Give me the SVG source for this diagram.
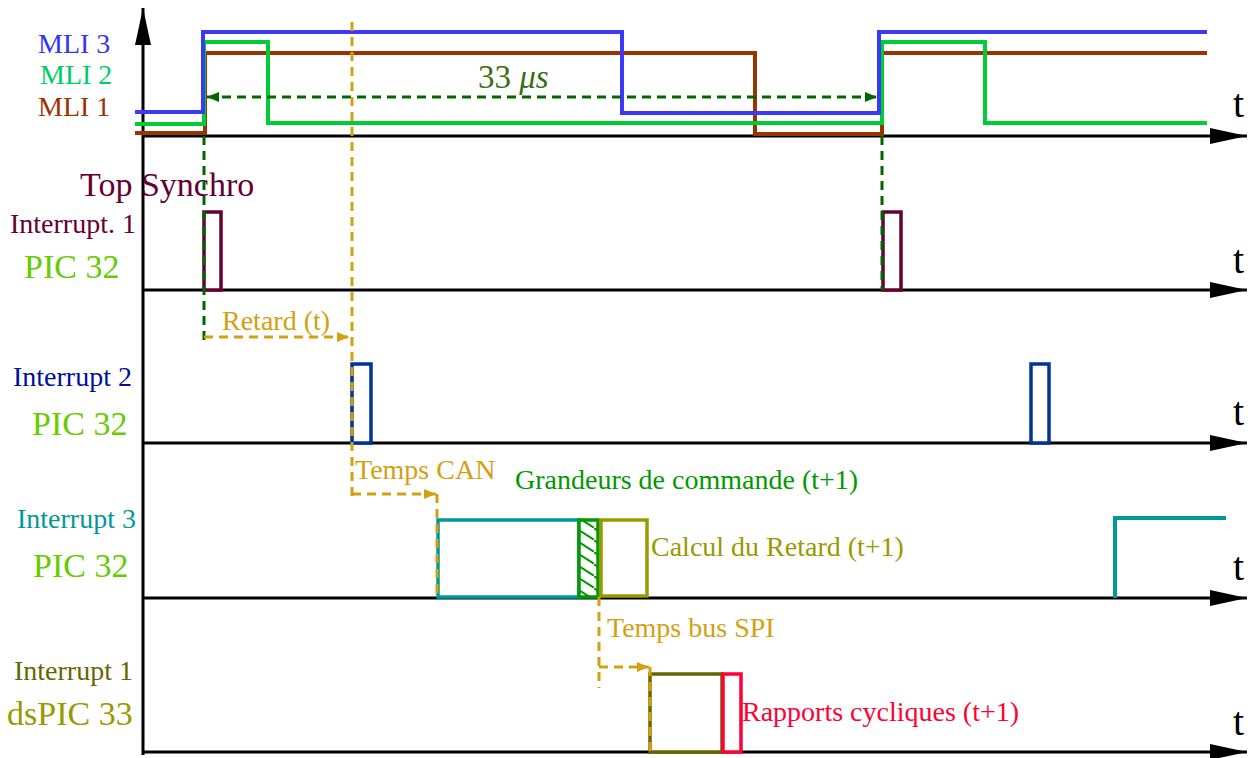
<svg xmlns="http://www.w3.org/2000/svg" width="1255" height="758" viewBox="0 0 1255 758">
<style>
text{font-family:"Liberation Serif","Times New Roman",serif}
.lbl{font-size:28px}
.big{font-size:34px}
.t{font-size:40px;fill:#000}
.axis{stroke:#000;stroke-width:3;fill:none}
.sig{fill:none;stroke-width:4;stroke-linejoin:miter}
.pulse{fill:#fff;stroke-width:3.5}
.dashG{stroke:#006600;stroke-width:3;stroke-dasharray:9 6;fill:none}
.dashO{stroke:#d4a010;stroke-width:3;stroke-dasharray:9 6;fill:none}
</style>
<defs>
<marker id="axArrow" markerUnits="userSpaceOnUse" markerWidth="40" markerHeight="20" refX="37" refY="8" orient="auto" viewBox="0 0 40 16">
<path d="M0,0 L37,8 L0,16 Z" fill="#000"/>
</marker>
<marker id="arrG" markerUnits="userSpaceOnUse" markerWidth="14" markerHeight="12" refX="12" refY="5" orient="auto-start-reverse" viewBox="0 0 14 10">
<path d="M0,0 L12,5 L0,10 Z" fill="#006600"/>
</marker>
<marker id="arrO" markerUnits="userSpaceOnUse" markerWidth="14" markerHeight="12" refX="12" refY="5" orient="auto" viewBox="0 0 14 10">
<path d="M0,0 L12,5 L0,10 Z" fill="#d4a010"/>
</marker>
<pattern id="hatch" patternUnits="userSpaceOnUse" width="18" height="12" patternTransform="rotate(0)">
<rect width="18" height="12" fill="#fff"/>
<path d="M-2,-1 L20,13" stroke="#009900" stroke-width="2"/>
</pattern>
</defs>

<g id="axes">
<line class="axis" x1="143" y1="755" x2="143" y2="8" marker-end="url(#axArrow)"/>
<line class="axis" x1="143" y1="136" x2="1247" y2="136" marker-end="url(#axArrow)"/>
<line class="axis" x1="143" y1="290" x2="1247" y2="290" marker-end="url(#axArrow)"/>
<line class="axis" x1="143" y1="443" x2="1247" y2="443" marker-end="url(#axArrow)"/>
<line class="axis" x1="143" y1="598" x2="1247" y2="598" marker-end="url(#axArrow)"/>
<line class="axis" x1="143" y1="752" x2="1247" y2="752" marker-end="url(#axArrow)"/>
<text class="t" x="1233" y="117">t</text>
<text class="t" x="1233" y="273">t</text>
<text class="t" x="1233" y="425">t</text>
<text class="t" x="1233" y="580">t</text>
<text class="t" x="1233" y="735">t</text>
</g>

<g id="mli">
<polyline class="sig" stroke="#993300" points="135,133 205,133 205,53 755,53 755,134 882,134 882,53 1207,53"/>
<polyline class="sig" stroke="#00cc33" points="135,124 204,124 204,42 268,42 268,123 882,123 882,42 985,42 985,123 1207,123"/>
<polyline class="sig" stroke="#3a3af5" points="135,112 203,112 203,32 622,32 622,113 879,113 879,32 1207,32"/>
<text class="lbl" x="38" y="53" fill="#3333ff">MLI 3</text>
<text class="lbl" x="40" y="84" fill="#00cc66">MLI 2</text>
<text class="lbl" x="38" y="116" fill="#993300">MLI 1</text>
</g>

<g id="pic32-int1">
<rect class="pulse" stroke="#660033" x="204" y="212" width="17" height="78"/>
<rect class="pulse" stroke="#660033" x="883" y="212" width="18" height="78"/>
<text class="big" x="80" y="196" fill="#660033">Top Synchro</text>
<text class="lbl" x="10" y="233" fill="#660033">Interrupt. 1</text>
<text class="big" x="24" y="278" fill="#66cc00">PIC 32</text>
</g>

<g id="pic32-int2">
<rect class="pulse" stroke="#003399" x="352" y="364" width="19" height="79"/>
<rect class="pulse" stroke="#003399" x="1031" y="364" width="18" height="79"/>
<text class="lbl" x="13" y="386" fill="#000f99">Interrupt 2</text>
<text class="big" x="32" y="435" fill="#66cc00">PIC 32</text>
</g>

<g id="pic32-int3">
<rect class="pulse" stroke="#009999" x="438" y="520" width="141" height="77"/>
<rect x="579" y="520" width="19" height="77" fill="url(#hatch)" stroke="#009900" stroke-width="3.5"/>
<rect class="pulse" stroke="#999900" x="601" y="520" width="46" height="76"/>
<polyline class="sig" stroke="#009999" stroke-width="3.5" points="1115,598 1115,518 1226,518"/>
<text class="lbl" x="17" y="528" fill="#009999">Interrupt 3</text>
<text class="big" x="33" y="577" fill="#66cc00">PIC 32</text>
<text class="lbl" x="515" y="489" fill="#009900">Grandeurs de commande (t+1)</text>
<text class="lbl" x="651" y="556" fill="#999900">Calcul du Retard (t+1)</text>
</g>

<g id="dspic33-int1">
<rect class="pulse" stroke="#666600" x="650" y="674" width="72" height="78"/>
<rect class="pulse" stroke="#ff0033" x="723" y="674" width="18" height="78"/>
<text class="lbl" x="14" y="680" fill="#666600">Interrupt 1</text>
<text class="big" x="7" y="725" fill="#999900">dsPIC 33</text>
<text class="lbl" x="742" y="721" fill="#ff0033">Rapports cycliques (t+1)</text>
</g>

<g id="connectors">
<line class="dashG" x1="204" y1="136" x2="204" y2="342"/>
<line class="dashG" x1="882" y1="136" x2="882" y2="290"/>
<line class="dashG" x1="207" y1="97" x2="877" y2="97" marker-start="url(#arrG)" marker-end="url(#arrG)"/>
<text x="478" y="88" font-size="33" fill="#3c6e14">33 <tspan font-style="italic">μs</tspan></text>
<line class="dashO" x1="352" y1="22" x2="352" y2="500"/>
<line class="dashO" x1="204" y1="337" x2="349" y2="337" marker-end="url(#arrO)"/>
<text class="lbl" x="222" y="330" fill="#d4a010">Retard (t)</text>
<line class="dashO" x1="352" y1="494" x2="436" y2="494" marker-end="url(#arrO)"/>
<line class="dashO" x1="437" y1="494" x2="437" y2="597"/>
<text class="lbl" x="355" y="479" fill="#d4a010">Temps CAN</text>
<line class="dashO" x1="599" y1="597" x2="599" y2="688"/>
<line class="dashO" x1="599" y1="667" x2="649" y2="667" marker-end="url(#arrO)"/>
<line class="dashO" x1="650" y1="667" x2="650" y2="752"/>
<text class="lbl" x="607" y="637" fill="#d4a010">Temps bus SPI</text>
</g>
</svg>
